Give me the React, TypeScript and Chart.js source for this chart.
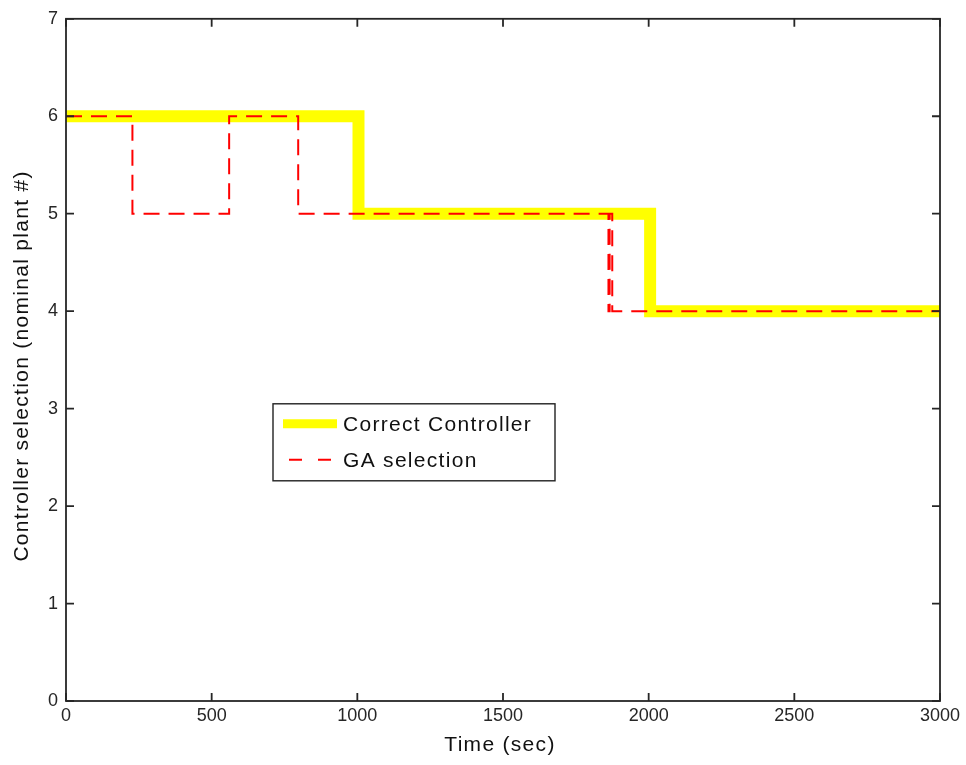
import React, { useEffect, useRef } from "react";
import { Chart, registerables } from "chart.js";

Chart.register(...registerables);

// Correct controller (nominal plant #) over time, step changes
const correctTimes = [0, 1004, 2005, 3000];
const correctValues = [6, 5, 4, 4];

// Controller picked by the genetic algorithm
const gaTimes = [0, 228, 560, 797, 1862, 1866, 1875, 3000];
const gaValues = [6, 5, 6, 5, 4, 5, 4, 4];

const xTickValues = [0, 500, 1000, 1500, 2000, 2500, 3000];
const yTickValues = [0, 1, 2, 3, 4, 5, 6, 7];

const xTitle = "Time (sec)";
const yTitle = "Controller selection (nominal plant #)";
const seriesLabels = ["Correct Controller", "GA selection"];

const FONT = "'Liberation Sans', Arial, Helvetica, sans-serif";
const INK = "#262626";
const GA_DASH = [16, 9];

function toPoints(xs: number[], ys: number[]) {
  return xs.map((x, i) => ({ x, y: ys[i] }));
}

// Box frame, inward tick marks on all four sides, axis titles, legend
const framePlugin = {
  id: "matlabFrame",
  afterDraw(chart: any) {
    const { ctx, chartArea: a, scales } = chart;
    const xs = scales.x;
    const ys = scales.y;
    const tick = 8;
    ctx.save();
    ctx.strokeStyle = INK;
    ctx.lineWidth = 1.8;
    ctx.setLineDash([]);
    ctx.strokeRect(a.left, a.top, a.right - a.left, a.bottom - a.top);
    ctx.beginPath();
    for (const v of xTickValues) {
      const px = xs.getPixelForValue(v);
      ctx.moveTo(px, a.bottom);
      ctx.lineTo(px, a.bottom - tick);
      ctx.moveTo(px, a.top);
      ctx.lineTo(px, a.top + tick);
    }
    for (const v of yTickValues) {
      const py = ys.getPixelForValue(v);
      ctx.moveTo(a.left, py);
      ctx.lineTo(a.left + tick, py);
      ctx.moveTo(a.right, py);
      ctx.lineTo(a.right - tick, py);
    }
    ctx.stroke();

    // Axis titles
    ctx.fillStyle = "#111";
    ctx.font = `21px ${FONT}`;
    (ctx as any).letterSpacing = "1.3px";
    ctx.textAlign = "center";
    ctx.textBaseline = "middle";
    ctx.fillText(xTitle, (a.left + a.right) / 2 - 3, chart.height - 20);
    ctx.save();
    ctx.translate(22, (a.top + a.bottom) / 2 + 6);
    ctx.rotate(-Math.PI / 2);
    ctx.fillText(yTitle, 0, 0);
    ctx.restore();

    // Legend box
    const lx = a.left + 207;
    const ly = a.top + 385;
    const lw = 282;
    const lh = 77;
    ctx.fillStyle = "#fff";
    ctx.fillRect(lx, ly, lw, lh);
    ctx.strokeStyle = "#222";
    ctx.lineWidth = 1.4;
    ctx.strokeRect(lx, ly, lw, lh);
    const ds = chart.data.datasets;
    const rows = [ly + 20, ly + 56];
    ds.forEach((d: any, i: number) => {
      const y = rows[i];
      ctx.beginPath();
      ctx.strokeStyle = d.borderColor;
      if (i === 0) {
        ctx.lineWidth = 9;
        ctx.setLineDash([]);
        ctx.moveTo(lx + 10, y);
        ctx.lineTo(lx + 64, y);
      } else {
        ctx.lineWidth = d.borderWidth;
        ctx.setLineDash([13, 16]);
        ctx.moveTo(lx + 16, y);
        ctx.lineTo(lx + 59, y);
      }
      ctx.stroke();
      ctx.setLineDash([]);
      ctx.fillStyle = "#111";
      ctx.textAlign = "left";
      ctx.textBaseline = "middle";
      ctx.fillText(d.label, lx + 70, y + 1);
    });
    (ctx as any).letterSpacing = "0px";
    ctx.restore();
  },
};

export default function App() {
  const ref = useRef<HTMLCanvasElement | null>(null);

  useEffect(() => {
    if (!ref.current) return;
    const chart = new Chart(ref.current, {
      type: "line",
      data: {
        datasets: [
          {
            label: seriesLabels[0],
            data: toPoints(correctTimes, correctValues),
            borderColor: "#ffff00",
            borderWidth: 12,
            stepped: true,
            pointRadius: 0,
            fill: false,
            order: 2,
            borderCapStyle: "butt",
          },
          {
            label: seriesLabels[1],
            data: toPoints(gaTimes, gaValues),
            borderColor: "#ff0000",
            borderWidth: 2,
            borderDash: GA_DASH,
            stepped: true,
            pointRadius: 0,
            fill: false,
            order: 1,
          },
        ],
      },
      options: {
        animation: false,
        responsive: false,
        layout: { padding: { left: 0, right: 26, top: 17, bottom: 0 } },
        plugins: {
          legend: { display: false },
          tooltip: { enabled: false },
        },
        scales: {
          x: {
            type: "linear",
            min: 0,
            max: 3000,
            afterFit: (s: any) => {
              s.height = 64;
            },
            afterBuildTicks: (s: any) => {
              s.ticks = xTickValues.map((v) => ({ value: v }));
            },
            grid: { display: false, drawTicks: false },
            border: { display: false },
            ticks: {
              padding: 4,
              color: INK,
              font: { family: FONT, size: 18 },
              maxRotation: 0,
              autoSkip: false,
              callback: (v: any) => String(v),
            },
          },
          y: {
            type: "linear",
            min: 0,
            max: 7,
            afterFit: (s: any) => {
              s.width = 66;
            },
            afterBuildTicks: (s: any) => {
              s.ticks = yTickValues.map((v) => ({ value: v }));
            },
            grid: { display: false, drawTicks: false },
            border: { display: false },
            ticks: {
              padding: 8,
              color: INK,
              font: { family: FONT, size: 18 },
              autoSkip: false,
              callback: (v: any) => String(v),
            },
          },
        },
      },
      plugins: [framePlugin],
    });
    return () => chart.destroy();
  }, []);

  return (
    <div style={{ position: "absolute", left: 0, top: 0, width: 966, height: 765, background: "#fff" }}>
      <canvas ref={ref} width={966} height={765} />
    </div>
  );
}
